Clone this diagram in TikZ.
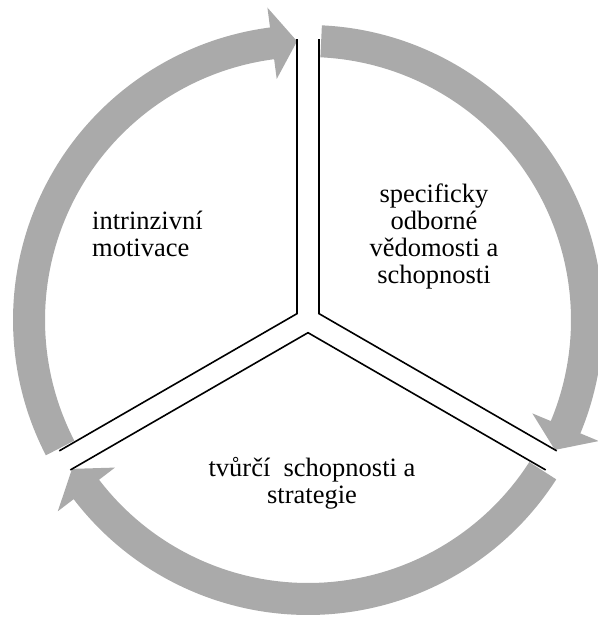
\documentclass[tikz,border=0pt]{standalone}
\usepackage{fontspec}
\setmainfont{Liberation Serif}
\definecolor{ringgray}{RGB}{170,170,170}
\begin{document}
\begin{tikzpicture}[x=1pt,y=1pt,
  ringarrow/.style={fill=ringgray},
  divider/.style={draw=black, line width=1.6pt, line join=miter},
  caption/.style={font=\fontsize{26.5}{27}\selectfont, inner sep=0pt}]
\useasboundingbox (0,0) rectangle (597,-617);
\coordinate (c) at (308,-320);

% three curved arrows of the cycle, each running clockwise from one spoke to the next
\foreach \s in {210,90,-30} {
  \pgfmathsetmacro\a{\s-2.7}     % start of the band
  \pgfmathsetmacro\b{\s-120+7.4} % base of the arrow head
  \pgfmathsetmacro\t{\s-120+2.25}% tip of the arrow head
  \fill[ringarrow] ([shift={(\a:295)}]c) arc[start angle=\a, end angle=\b, radius=295]
    -- ([shift={(\b:315)}]c) -- ([shift={(\t:279)}]c) -- ([shift={(\b:243)}]c)
    -- ([shift={(\b:263)}]c) arc[start angle=\b, end angle=\a, radius=263] -- cycle;
}

% double-line spokes splitting the circle into three parts
\coordinate (jl) at ([shift={(150:12.7)}]c);
\coordinate (jr) at ([shift={(30:12.7)}]c);
\coordinate (jb) at ([shift={(270:12.7)}]c);
\coordinate (tl) at ([shift={(92.25:281)}]c);
\coordinate (tr) at ([shift={(87.75:281)}]c);
\coordinate (ru) at ([shift={(-27.75:281)}]c);
\coordinate (rl) at ([shift={(-32.25:281)}]c);
\coordinate (lu) at ([shift={(207.75:281)}]c);
\coordinate (ll) at ([shift={(212.25:281)}]c);
\draw[divider] (tl) -- (jl) -- (lu);
\draw[divider] (tr) -- (jr) -- (ru);
\draw[divider] (ll) -- (jb) -- (rl);

% labels of the three parts (anchored at the baseline of their last line)
\node[caption, align=left, anchor=base west] (motiv) at (92,-256) {intrinzivní\\motivace};
\node[caption, align=center, anchor=base] (odbor) at (434,-283) {specificky\\odborné\\vědomosti a\\schopnosti};
\node[caption, align=center, anchor=base] (tvur) at (312,-503) {tvůrčí\ \ schopnosti a\\strategie};
\end{tikzpicture}
\end{document}
